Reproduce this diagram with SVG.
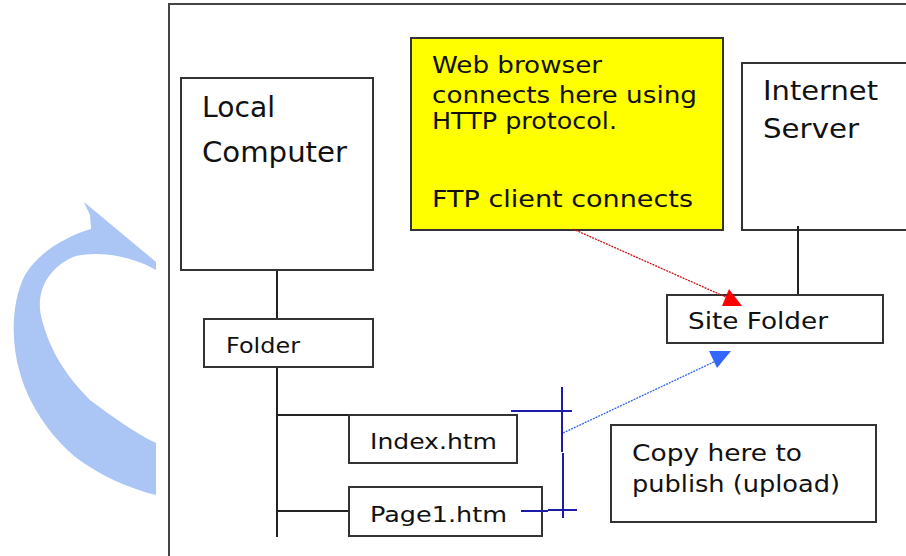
<svg xmlns="http://www.w3.org/2000/svg" width="906" height="556" viewBox="0 0 906 556">
<style>
.box{fill:#fff;stroke:#333;stroke-width:2}
.t{font-family:"DejaVu Sans","Verdana",sans-serif;fill:#111}
.ln{stroke:#222;stroke-width:2;fill:none}
.mk{stroke:#1c1caa;stroke-width:2;fill:none}
</style>
<rect width="906" height="556" fill="#fff"/>
<path id="bgarrow" fill="#abc6f5" d="M156,262 L84,202 L90,215 L91,229 C70,235 40,250 25,275 C12,300 10,340 20,373 C30,410 60,450 90,467 C110,480 135,490 156,495 L156,443 C135,433 110,415 90,400 C65,375 50,350 42,320 C35,295 45,270 73,257 C95,250 130,255 156,270 Z"/>
<rect x="169" y="4" width="760" height="600" fill="#fff" stroke="#444" stroke-width="2"/>
<g id="local">
<rect class="box" x="181" y="78" width="192" height="192"/>
<text class="t" x="202" y="117" font-size="29" textLength="73" lengthAdjust="spacingAndGlyphs">Local</text>
<text class="t" x="202" y="162" font-size="29" textLength="145" lengthAdjust="spacingAndGlyphs">Computer</text>
</g>
<g id="note">
<rect x="411" y="38" width="312" height="192" fill="#ffff00" stroke="#333" stroke-width="2"/>
<text class="t" x="432" y="73" font-size="23" textLength="170" lengthAdjust="spacingAndGlyphs">Web browser</text>
<text class="t" x="432" y="103" font-size="23" textLength="265" lengthAdjust="spacingAndGlyphs">connects here using</text>
<text class="t" x="432" y="129" font-size="23" textLength="185" lengthAdjust="spacingAndGlyphs">HTTP protocol.</text>
<text class="t" x="432" y="207" font-size="23" textLength="261" lengthAdjust="spacingAndGlyphs">FTP client connects</text>
</g>
<g id="server">
<rect class="box" x="742" y="63" width="180" height="167"/>
<text class="t" x="763" y="100" font-size="27" textLength="115" lengthAdjust="spacingAndGlyphs">Internet</text>
<text class="t" x="763" y="138" font-size="27" textLength="96" lengthAdjust="spacingAndGlyphs">Server</text>
</g>
<g id="sitefolder">
<rect class="box" x="667" y="295" width="216" height="48"/>
<text class="t" x="688" y="329" font-size="23" textLength="140" lengthAdjust="spacingAndGlyphs">Site Folder</text>
</g>
<g id="folder">
<rect class="box" x="204" y="319" width="169" height="48"/>
<text class="t" x="226" y="353" font-size="22" textLength="74" lengthAdjust="spacingAndGlyphs">Folder</text>
</g>
<g id="index">
<rect class="box" x="349" y="415" width="168" height="48"/>
<text class="t" x="370" y="449" font-size="22" textLength="127" lengthAdjust="spacingAndGlyphs">Index.htm</text>
</g>
<g id="page1">
<rect class="box" x="349" y="487" width="193" height="49"/>
<text class="t" x="370" y="522" font-size="22" textLength="137" lengthAdjust="spacingAndGlyphs">Page1.htm</text>
</g>
<g id="copy">
<rect class="box" x="611" y="425" width="265" height="97"/>
<text class="t" x="632" y="461" font-size="23" textLength="170" lengthAdjust="spacingAndGlyphs">Copy here to</text>
<text class="t" x="632" y="492" font-size="23" textLength="208" lengthAdjust="spacingAndGlyphs">publish (upload)</text>
</g>
<g id="connectors">
<line class="ln" x1="277" y1="271" x2="277" y2="318"/>
<line class="ln" x1="277" y1="368" x2="277" y2="537"/>
<line class="ln" x1="277" y1="415" x2="348" y2="415"/>
<line class="ln" x1="277" y1="511" x2="348" y2="511"/>
<line class="ln" x1="798" y1="226" x2="798" y2="294"/>
<line x1="573" y1="229" x2="728" y2="298" stroke="#cc1111" stroke-width="1.3" stroke-dasharray="2 1"/>
<polygon points="729,289 722,306 742,306" fill="#ff0000"/>
<line x1="563" y1="433" x2="718" y2="360" stroke="#3366ee" stroke-width="1.3" stroke-dasharray="2 1"/>
<polygon points="709,351 731,351 717,368" fill="#3366ff"/>
<line class="mk" x1="511" y1="411" x2="572" y2="411"/>
<line class="mk" x1="562" y1="387" x2="562" y2="452"/>
<line class="mk" x1="563" y1="453" x2="563" y2="518"/>
<line class="mk" x1="521" y1="511" x2="548" y2="511"/>
<line class="mk" x1="548" y1="510" x2="577" y2="510"/>
</g>
</svg>
